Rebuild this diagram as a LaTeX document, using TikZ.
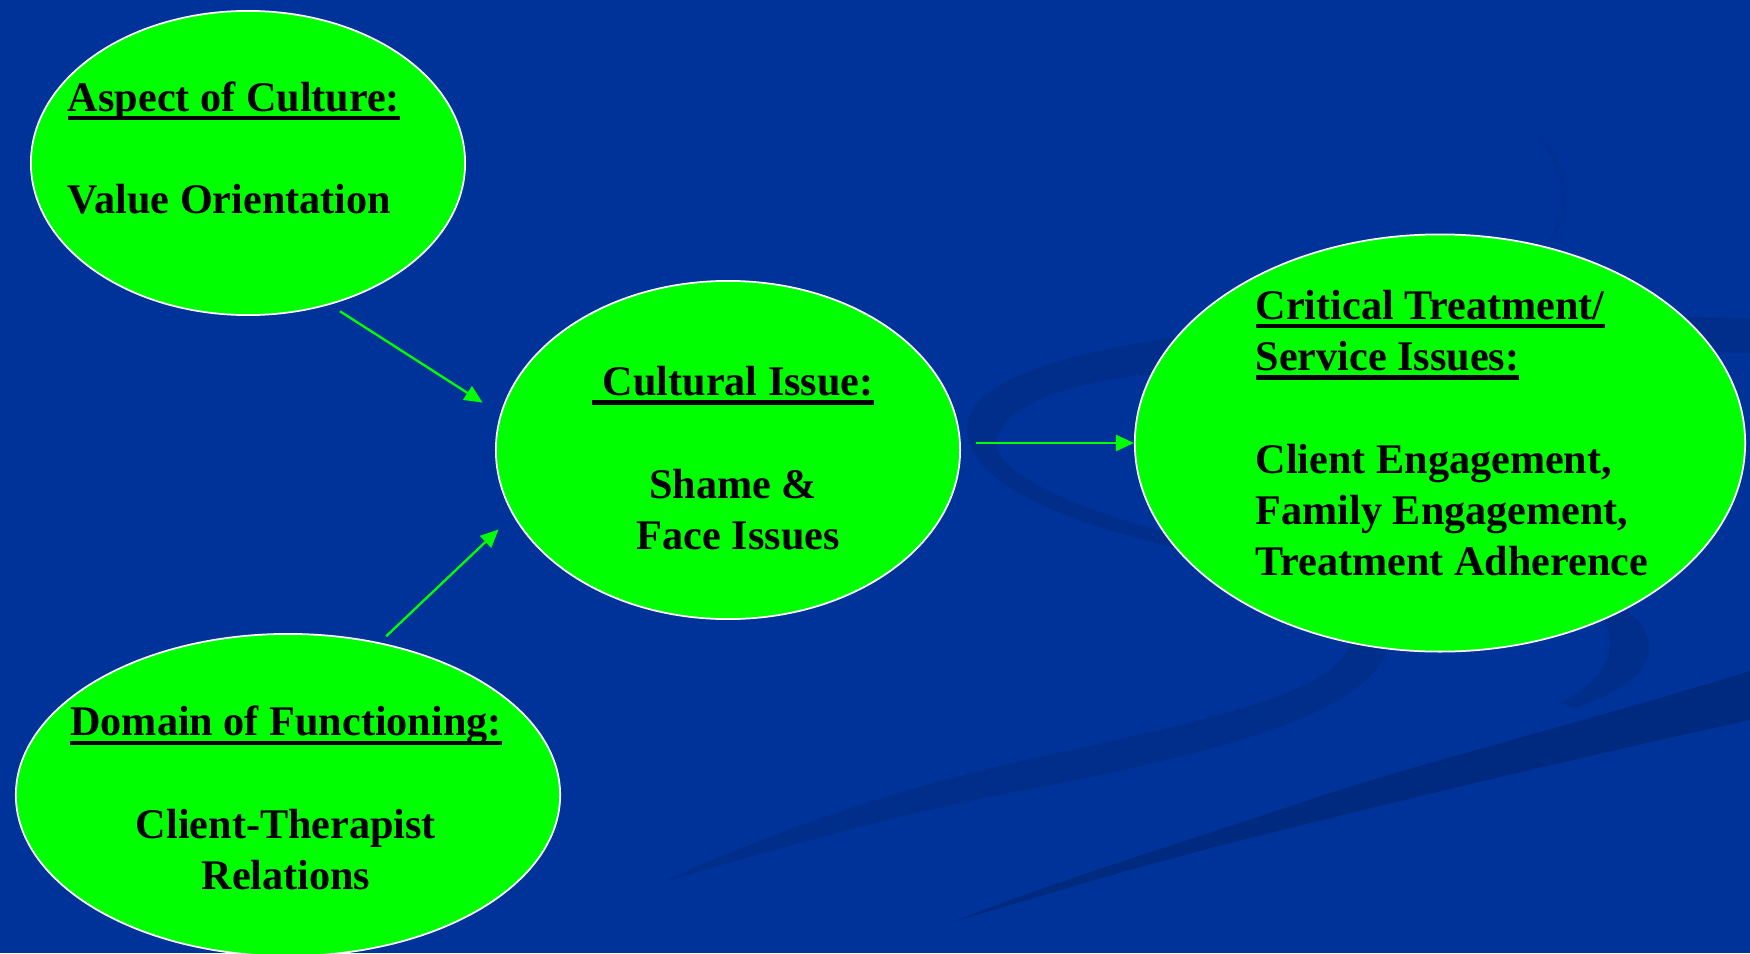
\documentclass[tikz,border=0pt]{standalone}
\usepackage{fontspec}
\setmainfont{Liberation Serif}
\usepackage{xcolor}
\usetikzlibrary{arrows.meta}
\usetikzlibrary{shapes.geometric}
\usetikzlibrary{positioning}
\definecolor{fundo}{RGB}{0,51,153}
\definecolor{onda}{RGB}{0,46,138}
\definecolor{ondaescura}{RGB}{0,42,128}
\definecolor{verde}{RGB}{0,255,0}
\newcommand{\sublinha}[1]{\setbox0\hbox{#1}\rlap{\rule[-2.6pt]{\wd0}{1.2pt}}\box0}
\tikzset{
  bolha/.style n args={2}{ellipse, draw=white, line width=0.5pt, fill=verde, minimum width=#1, minimum height=#2, inner sep=0pt},
  texto/.style={align=#1, font=\fontsize{12}{14.6}\selectfont\bfseries, text=black, inner sep=0pt},
  texto/.default=center,
  seta/.style={-{Triangle[length=0.18cm,width=0.16cm]}, draw=verde, line width=0.65pt},
}

\begin{document}
\begin{tikzpicture}[x=0.01cm, y=0.01cm]
  \useasboundingbox (0,0) rectangle (1750,953);
  \clip (0,0) rectangle (1750,953);
  \fill[fundo] (0,0) rectangle (1750,953);

  % background swirl
  \fill[onda] (1750,635) .. controls (1500,640) and (1250,630) .. (1150,612) .. controls (1020,590) and (967,560) .. (967,525)
    .. controls (967,470) and (1060,430) .. (1200,400) -- (1200,412) .. controls (1080,440) and (997,480) .. (997,508)
    .. controls (997,545) and (1060,570) .. (1160,580) .. controls (1300,600) and (1500,605) .. (1750,600) -- cycle;
  \fill[onda] (1355,330) .. controls (1350,270) and (1290,250) .. (1025,193) .. controls (900,165) and (780,125) .. (660,70)
    .. controls (780,105) and (900,140) .. (1025,163) .. controls (1300,215) and (1395,260) .. (1392,330) -- cycle;
  \fill[ondaescura] (1750,282) .. controls (1600,235) and (1400,185) .. (1300,150) .. controls (1150,100) and (1050,70) .. (950,30)
    .. controls (1050,60) and (1150,90) .. (1250,115) .. controls (1450,165) and (1600,200) .. (1750,233) -- cycle;
  \fill[onda] (1600,360) .. controls (1660,330) and (1680,280) .. (1575,245) -- (1560,250) .. controls (1620,280) and (1620,320) .. (1590,350) -- cycle;
  \draw[onda!50!fundo, line width=1pt] (1540,815) .. controls (1570,780) and (1570,740) .. (1550,712);

  \node[bolha={4.34cm}{3.04cm}] (e1) at (248,790) {};
  \node[bolha={4.64cm}{3.38cm}] (e2) at (728,503) {};
  \node[bolha={6.10cm}{4.17cm}] (e3) at (1440,510) {};
  \node[bolha={5.44cm}{3.22cm}] (e4) at (288,158) {};

  \node[texto=left] (t1) at ([shift={(-14,15)}]e1.center) {\sublinha{Aspect of Culture:}\\[14.6pt] Value Orientation};
  \node[texto] (t2) at ([shift={(5,-8)}]e2.center) {\sublinha{\ Cultural Issue:}\\[14.6pt] Shame \&\\ \hspace*{0.25em}Face Issues};
  \node[texto=left] (t3) at ([shift={(12,10)}]e3.center) {\sublinha{Critical Treatment/}\\ \sublinha{Service Issues:}\\[14.6pt]
    Client Engagement,\\ Family Engagement,\\ Treatment Adherence};
  \node[texto] (t4) at ([shift={(-2,-3)}]e4.center) {\sublinha{Domain of Functioning:}\\[14.6pt] Client-Therapist\\ Relations};

  \draw[seta, shorten <=0.12cm, shorten >=0.21cm] (e1.-60) -- (e2.171);
  \draw[seta, shorten <=0.09cm, shorten >=0.2cm] (e4.59) -- (e2.197);
  \draw[seta, shorten <=0.15cm] (e3.west -| e2.east) -- (e3.west);
\end{tikzpicture}
\end{document}
